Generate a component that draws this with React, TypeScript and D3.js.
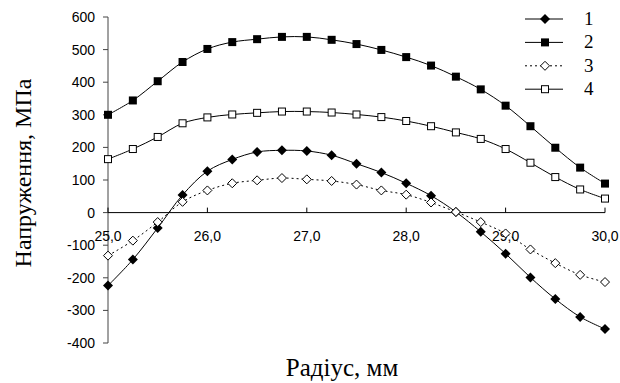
import * as d3 from "d3";

const radius = [25.0, 25.25, 25.5, 25.75, 26.0, 26.25, 26.5, 26.75, 27.0, 27.25, 27.5, 27.75, 28.0, 28.25, 28.5, 28.75, 29.0, 29.25, 29.5, 29.75, 30.0];

const series1 = [-224, -144, -47, 54, 127, 163, 186, 191, 189, 176, 150, 123, 90, 52, 2, -59, -126, -199, -265, -320, -357];
const series2 = [300, 344, 403, 462, 502, 523, 532, 539, 539, 530, 517, 499, 477, 451, 417, 378, 328, 265, 199, 138, 89];
const series3 = [-132, -86, -29, 33, 68, 90, 99, 106, 102, 97, 86, 68, 55, 31, 2, -29, -64, -113, -155, -191, -213];
const series4 = [164, 195, 232, 274, 292, 301, 306, 310, 310, 307, 301, 293, 281, 265, 246, 226, 195, 153, 109, 71, 43];

const seriesNames = ["1", "2", "3", "4"];
const yTicks = [-400, -300, -200, -100, 0, 100, 200, 300, 400, 500, 600];
const xTicks = [25, 26, 27, 28, 29, 30];

type Marker = "diamondFilled" | "squareFilled" | "diamondOpen" | "squareOpen";

const seriesDefs: { name: string; values: number[]; marker: Marker; dashed: boolean }[] = [
  { name: seriesNames[0], values: series1, marker: "diamondFilled", dashed: false },
  { name: seriesNames[1], values: series2, marker: "squareFilled", dashed: false },
  { name: seriesNames[2], values: series3, marker: "diamondOpen", dashed: true },
  { name: seriesNames[3], values: series4, marker: "squareOpen", dashed: false },
];

const sans = "Liberation Sans, Arial, sans-serif";
const serif = "Liberation Serif, Times New Roman, serif";

function MarkerShape({ type, x, y }: { type: Marker; x: number; y: number }) {
  if (type === "squareFilled") {
    return <rect x={x - 4} y={y - 4} width={8} height={8} fill="black" />;
  }
  if (type === "squareOpen") {
    return <rect x={x - 3.5} y={y - 3.5} width={7} height={7} fill="white" stroke="black" strokeWidth={1} />;
  }
  const r = type === "diamondFilled" ? 5 : 4.5;
  const d = `M${x},${y - r}L${x + r},${y}L${x},${y + r}L${x - r},${y}Z`;
  return type === "diamondFilled" ? (
    <path d={d} fill="black" />
  ) : (
    <path d={d} fill="white" stroke="black" strokeWidth={1} />
  );
}

export default function App() {
  const width = 620;
  const height = 383;
  const marginLeft = 108;
  const marginRight = 15;
  const marginTop = 17;
  const plotBottom = 343;

  const xScale = d3.scaleLinear().domain([25, 30]).range([marginLeft, width - marginRight]);
  const yScale = d3.scaleLinear().domain([-400, 600]).range([plotBottom, marginTop]);

  const line = d3
    .line<number>()
    .x((_, i) => xScale(radius[i]))
    .y((d) => yScale(d))
    .curve(d3.curveCatmullRom.alpha(0.5));

  const y0 = yScale(0);

  return (
    <svg width={width} height={height} style={{ position: "absolute", left: 0, top: 0, background: "white" }}>
      {/* Y axis */}
      <line x1={marginLeft} x2={marginLeft} y1={yScale(600)} y2={yScale(-400)} stroke="#444" />
      {yTicks.map((t) => (
        <g key={t} transform={`translate(${marginLeft},${yScale(t)})`}>
          <line x1={-5} x2={0} stroke="#444" />
          <text x={-13} dy="0.36em" textAnchor="end" fontFamily={sans} fontSize={14}>
            {t}
          </text>
        </g>
      ))}

      {/* X axis */}
      <line x1={xScale(25)} x2={xScale(30)} y1={y0} y2={y0} stroke="black" />
      {xTicks.map((t) => (
        <g key={t} transform={`translate(${xScale(t)},${y0})`}>
          <line y1={-5} y2={0} stroke="black" />
          <text y={28} textAnchor="middle" fontFamily={sans} fontSize={14}>
            {t.toFixed(1).replace(".", ",")}
          </text>
        </g>
      ))}

      {/* Series */}
      {seriesDefs.map((s) => (
        <g key={s.name}>
          <path
            d={line(s.values) ?? ""}
            fill="none"
            stroke="black"
            strokeWidth={1}
            strokeDasharray={s.dashed ? "2,3" : undefined}
          />
          {s.values.map((v, i) => (
            <MarkerShape key={i} type={s.marker} x={xScale(radius[i])} y={yScale(v)} />
          ))}
        </g>
      ))}

      {/* Legend */}
      {seriesDefs.map((s, i) => {
        const ly = 19 + i * 23.4;
        return (
          <g key={s.name}>
            <line x1={525} x2={563} y1={ly} y2={ly} stroke="black" strokeDasharray={s.dashed ? "2,3" : undefined} />
            <MarkerShape type={s.marker} x={545} y={ly} />
            <text x={584} y={ly + 6} fontFamily={serif} fontSize={19}>
              {s.name}
            </text>
          </g>
        );
      })}

      {/* Axis titles */}
      <text
        transform={`translate(31,173) rotate(-90)`}
        textAnchor="middle"
        fontFamily={serif}
        fontSize={24}
      >
        Напруження, МПа
      </text>
      <text x={342} y={376} textAnchor="middle" fontFamily={serif} fontSize={25}>
        Радіус, мм
      </text>
    </svg>
  );
}
